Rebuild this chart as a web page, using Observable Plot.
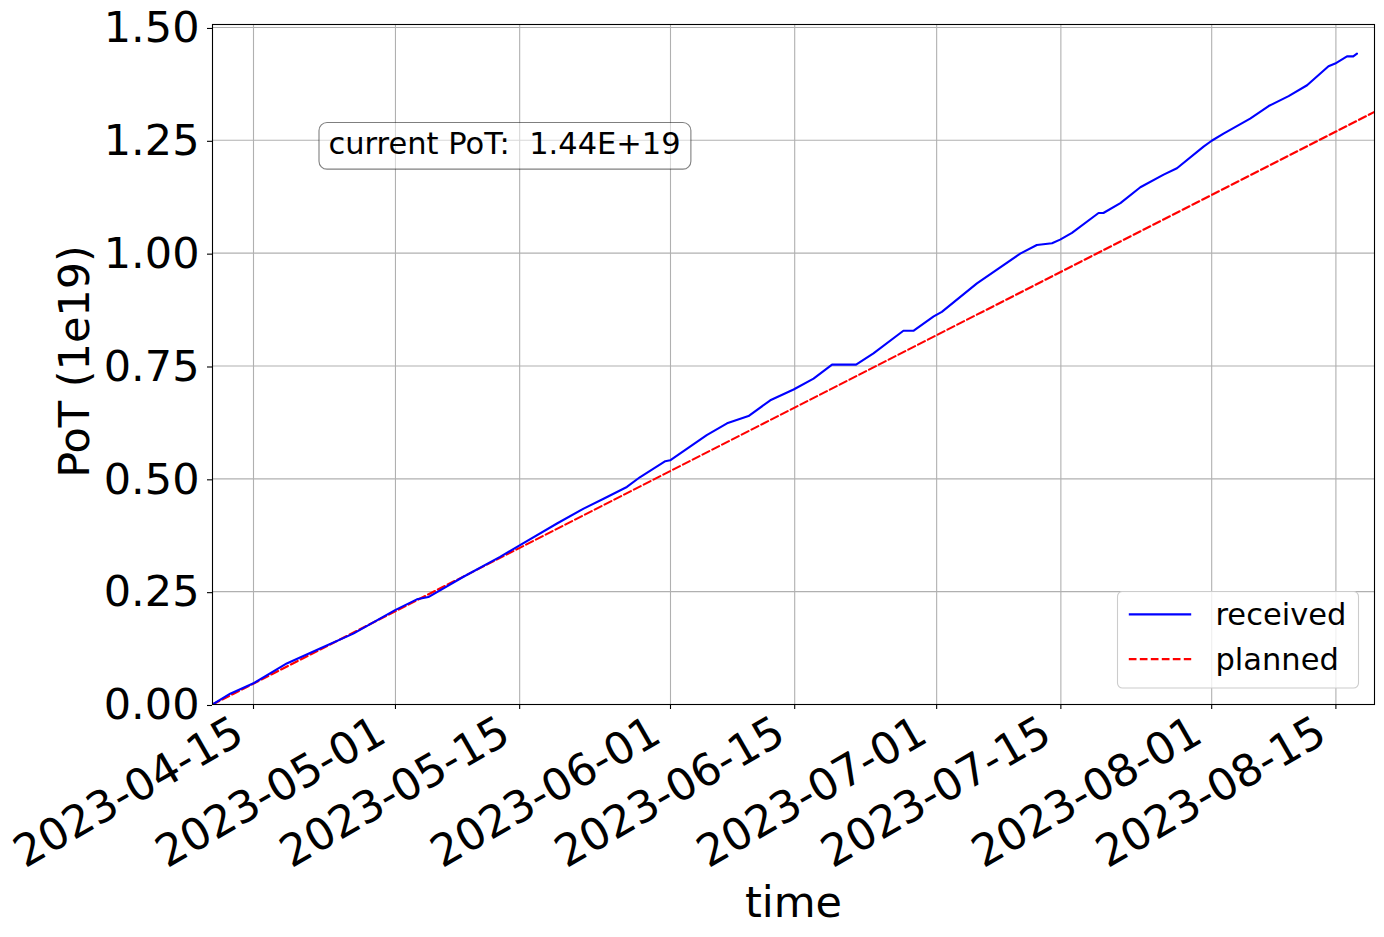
<!DOCTYPE html>
<html><head><meta charset="utf-8">
<script src="https://cdn.jsdelivr.net/npm/d3@7"></script>
<script src="https://cdn.jsdelivr.net/npm/@observablehq/plot@0.6"></script>
<style>
html,body{margin:0;padding:0;background:#fff;}
#chart svg{display:block;}
</style>
</head><body><div id="chart"></div>
<script>
// ---- data ----
const receivedTimes = [
  "2023-04-10 09:05","2023-04-12 09:00","2023-04-15 00:00","2023-04-18 18:00","2023-04-22 12:00",
  "2023-04-26 06:00","2023-04-30 23:00","2023-05-03 10:00","2023-05-04 17:00","2023-05-08 16:00",
  "2023-05-12 19:00","2023-05-15 01:00","2023-05-19 05:00","2023-05-22 05:00","2023-05-24 11:00",
  "2023-05-27 02:00","2023-05-28 14:00","2023-05-31 10:00","2023-05-31 23:00","2023-06-05 02:00",
  "2023-06-07 09:00","2023-06-09 19:00","2023-06-12 06:00","2023-06-14 21:00","2023-06-17 03:00",
  "2023-06-19 05:00","2023-06-21 22:00","2023-06-23 21:00","2023-06-27 06:00","2023-06-28 09:00",
  "2023-06-30 16:00","2023-07-01 14:00","2023-07-05 13:00","2023-07-10 10:00","2023-07-12 07:00",
  "2023-07-14 00:00","2023-07-14 22:00","2023-07-16 06:00","2023-07-19 06:00","2023-07-19 19:00",
  "2023-07-21 17:00","2023-07-23 23:00","2023-07-26 14:00","2023-07-28 02:00","2023-07-31 02:00",
  "2023-08-01 00:00","2023-08-02 08:00","2023-08-05 08:00","2023-08-07 10:00","2023-08-09 16:00",
  "2023-08-11 18:00","2023-08-14 04:00","2023-08-14 22:00","2023-08-16 06:00","2023-08-16 23:00",
  "2023-08-17 09:00"
];
const receivedPoT = [
  0.000,0.024,0.047,0.091,0.124,
  0.157,0.209,0.233,0.238,0.283,
  0.327,0.353,0.401,0.434,0.456,
  0.482,0.504,0.539,0.541,0.597,
  0.623,0.639,0.674,0.698,0.722,
  0.753,0.753,0.778,0.828,0.828,
  0.860,0.870,0.933,0.999,1.018,
  1.022,1.030,1.045,1.089,1.089,
  1.111,1.146,1.174,1.188,1.236,
  1.249,1.265,1.298,1.326,1.348,
  1.372,1.414,1.420,1.436,1.436,
  1.442
];
const plannedTimes = ["2023-04-10 09:05","2023-08-19 08:25"];
const plannedPoT = [0.0, 1.313];

const seriesNames = ["received","planned"];
const xTickDates = ["2023-04-15","2023-05-01","2023-05-15","2023-06-01","2023-06-15",
                    "2023-07-01","2023-07-15","2023-08-01","2023-08-15"];
const yTicks = [0, 0.25, 0.5, 0.75, 1.0, 1.25, 1.5];
const xDomain = ["2023-04-10 09:05","2023-08-19 08:25"];
const yDomain = [0, 1.5066];
const xLabel = "time";
const yLabel = "PoT (1e19)";

// ---- build ----
const parse = d3.utcParse("%Y-%m-%d %H:%M");
const parseDay = d3.utcParse("%Y-%m-%d");
const received = receivedTimes.map((t,i)=>({time: parse(t), pot: receivedPoT[i]}));
const planned = plannedTimes.map((t,i)=>({time: parse(t), pot: plannedPoT[i]}));
const xTicks = xTickDates.map(parseDay);
const fmtDay = d3.utcFormat("%Y-%m-%d");

const lastPoT = receivedPoT[receivedPoT.length-1] * 1e19;
const annText = "current PoT: \u00a0" + lastPoT.toExponential(2).toUpperCase();

const W = 1384, H = 937, mL = 212, mR = 10, mT = 24, mB = 233;
const font = "DejaVu Sans, Liberation Sans, sans-serif";
const bigFont = 43;
const colors = ["blue","red"];
const dashes = [null,"7.7,3.3"];

const chart = Plot.plot({
  width: W, height: H,
  marginLeft: mL, marginRight: mR, marginTop: mT, marginBottom: mB,
  style: {fontFamily: font, fontSize: "10px", background: "white", color: "black", overflow: "visible"},
  x: {type: "utc", domain: xDomain.map(parse), label: null},
  y: {domain: yDomain, label: null},
  marks: [
    Plot.gridX(xTicks, {stroke: "#b0b0b0", strokeOpacity: 1, strokeWidth: 1.1}),
    Plot.gridY(yTicks, {stroke: "#b0b0b0", strokeOpacity: 1, strokeWidth: 1.1}),
    Plot.line(planned, {x: "time", y: "pot", stroke: colors[1], strokeWidth: 2.1, strokeDasharray: dashes[1], clip: true}),
    Plot.line(received, {x: "time", y: "pot", stroke: colors[0], strokeWidth: 2.1, clip: true}),
    Plot.frame({stroke: "black", strokeWidth: 1.1}),
    Plot.axisX(xTicks, {tickSize: 5, tickFormat: () => "", strokeWidth: 1.1}),
    Plot.text(xTicks, {x: d => d, text: d => fmtDay(d), frameAnchor: "bottom", dy: 24, dx: -14,
      rotate: -30, textAnchor: "end", lineAnchor: "middle", fontSize: 44}),
    Plot.axisY(yTicks, {tickSize: 5, tickPadding: 8, tickFormat: d3.format(".2f"), fontSize: bigFont, dy: 1, strokeWidth: 1.1}),
    Plot.text([xLabel], {text: d => d, frameAnchor: "bottom", dy: 199, fontSize: bigFont, lineAnchor: "middle", textAnchor: "middle"}),
    Plot.text([yLabel], {text: d => d, frameAnchor: "left", dx: -137, dy: -3, rotate: -90, fontSize: bigFont, lineAnchor: "middle", textAnchor: "middle"}),
    Plot.text([annText], {text: d => d, frameAnchor: "top-left", dx: 116, dy: 120, fontSize: 30.5,
      textAnchor: "start", lineAnchor: "middle"})
  ]
});
document.getElementById("chart").appendChild(chart);

// ---- annotation box around the text ----
const svg = d3.select(chart);
svg.selectAll("text").each(function() {
  if (this.textContent.startsWith("current PoT")) {
    const bb = this.getBBox();
    d3.select(this.parentNode).insert("rect", () => this)
      .attr("transform", this.getAttribute("transform"))
      .attr("x", bb.x - 9.5).attr("y", bb.y - 3.8)
      .attr("width", bb.width + 19.7).attr("height", bb.height + 11.7)
      .attr("rx", 8).attr("fill", "white").attr("fill-opacity", 0.5)
      .attr("stroke", "black").attr("stroke-opacity", 0.5).attr("stroke-width", 1.1);
  }
});

// ---- legend (lower right, inside the axes) ----
const lgW = 241, lgH = 96.5;
const lx = W - mR - 15.5 - lgW, ly = H - mB - 16 - lgH;
const lg = svg.append("g").attr("font-family", font).attr("font-size", 30.5)
  .attr("fill", "black").attr("text-anchor", "start");
lg.append("rect").attr("x", lx).attr("y", ly).attr("width", lgW).attr("height", lgH).attr("rx", 5)
  .attr("fill", "white").attr("fill-opacity", 0.8).attr("stroke", "#cccccc").attr("stroke-width", 1.1);
seriesNames.forEach((name, i) => {
  const cy = ly + 22.9 + i * 44.7;
  const ln = lg.append("line").attr("x1", lx + 11.3).attr("x2", lx + 73.7).attr("y1", cy).attr("y2", cy)
    .attr("stroke", colors[i]).attr("stroke-width", 2.1);
  if (dashes[i]) ln.attr("stroke-dasharray", dashes[i]);
  lg.append("text").attr("x", lx + 98).attr("y", cy + 11).attr("text-anchor", "start").text(name);
});
</script>
</body></html>
